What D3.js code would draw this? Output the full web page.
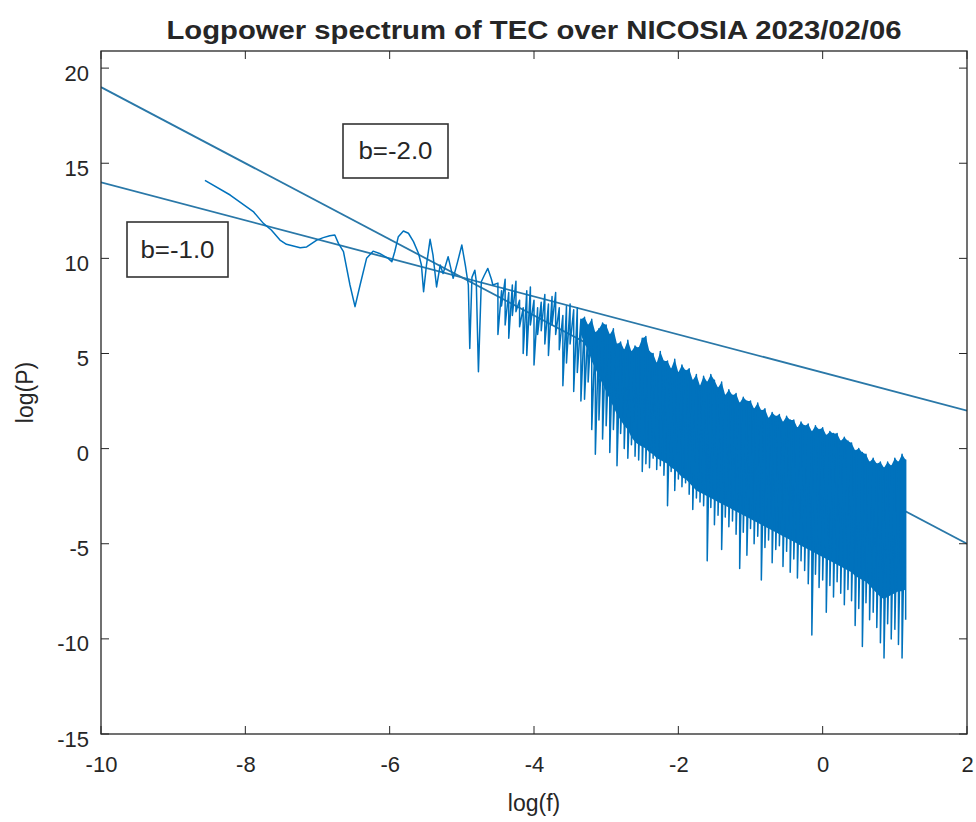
<!DOCTYPE html>
<html>
<head>
<meta charset="utf-8">
<script src="https://cdn.jsdelivr.net/npm/d3@7"></script>
<style>
  html, body { margin: 0; padding: 0; background: #ffffff; }
  svg { display: block; }
  text { font-family: "Liberation Sans", Arial, Helvetica, sans-serif; fill: #262626; }
</style>
</head>
<body>
<svg id="chart" width="976" height="822"></svg>
<script>
// ---------------- data ----------------
const titleText = "Logpower spectrum of TEC over NICOSIA 2023/02/06";
const xLabelText = "log(f)";
const yLabelText = "log(P)";
const xTicks = [-10, -8, -6, -4, -2, 0, 2];
const yTicks = [-15, -10, -5, 0, 5, 10, 15, 20];

// fitted power-law lines: log(P) = intercept + b * log(f)
const fitSlopes = [-1.0, -2.0];
const fitIntercepts = [4.0, -1.0];
const fitLabels = ["b=-1.0", "b=-2.0"];

// low-frequency (sparse) part of the spectrum
const lowLogF = [-8.56, -8.21, -7.89, -7.75, -7.64, -7.52, -7.43, -7.24, -7.15, -7.01,
  -6.92, -6.83, -6.76, -6.71, -6.64, -6.55, -6.48, -6.41, -6.32, -6.23,
  -6.14, -6.02, -5.97, -5.93, -5.88, -5.81, -5.74, -5.67, -5.60, -5.56,
  -5.53, -5.49, -5.44, -5.40, -5.35, -5.30, -5.26, -5.19, -5.12, -5.06,
  -5.00, -4.95, -4.91, -4.89, -4.86, -4.82, -4.80, -4.77, -4.73, -4.69,
  -4.64, -4.59, -4.57];
const lowLogP = [14.1, 13.33, 12.46, 11.84, 11.49, 10.96, 10.74, 10.56, 10.6, 10.96,
  11.09, 11.19, 11.23, 10.79, 10.35, 8.6, 7.46, 8.6, 10.0, 10.38,
  10.26, 10.0, 9.82, 10.35, 11.14, 11.44, 11.32, 10.88, 10.26, 9.65,
  8.25, 9.65, 11.0, 10.18, 8.5, 9.65, 9.2, 10.09, 8.95, 9.8,
  10.7, 9.6, 8.6, 5.26, 9.0, 9.38, 8.8, 4.04, 8.77, 9.1,
  9.47, 8.9, 8.6];

// high-frequency (dense) part: per bin, the highest value, the lower edge of
// the solid band and the deepest dip
const bandLogF = [-4.50, -4.45, -4.40, -4.35, -4.30, -4.25, -4.20, -4.15, -4.10, -4.05,
  -4.00, -3.95, -3.90, -3.85, -3.80, -3.75, -3.70, -3.65, -3.60, -3.55,
  -3.50, -3.45, -3.40, -3.35, -3.30, -3.25, -3.20, -3.15, -3.10, -3.05,
  -3.00, -2.95, -2.90, -2.85, -2.80, -2.75, -2.70, -2.65, -2.60, -2.55,
  -2.50, -2.45, -2.40, -2.35, -2.30, -2.25, -2.20, -2.15, -2.10, -2.05,
  -2.00, -1.95, -1.90, -1.85, -1.80, -1.75, -1.70, -1.65, -1.60, -1.55,
  -1.50, -1.45, -1.40, -1.35, -1.30, -1.25, -1.20, -1.15, -1.10, -1.05,
  -1.00, -0.95, -0.90, -0.85, -0.80, -0.75, -0.70, -0.65, -0.60, -0.55,
  -0.50, -0.45, -0.40, -0.35, -0.30, -0.25, -0.20, -0.15, -0.10, -0.05,
  0.00, 0.05, 0.10, 0.15, 0.20, 0.25, 0.30, 0.35, 0.40, 0.45,
  0.50, 0.55, 0.60, 0.65, 0.70, 0.75, 0.80, 0.85, 0.90, 0.95,
  1.00, 1.05, 1.10, 1.15];
const bandTop = [8.7, 8.3, 8.9, 8.2, 8.6, 8.8, 7.8, 7.4, 8.3, 8.5,
  7.8, 7.4, 7.7, 8.1, 7.6, 8.0, 8.2, 7.4, 7.0, 7.5,
  7.6, 7.3, 7.4, 6.8, 6.9, 6.5, 6.8, 6.1, 6.3, 6.6,
  6.5, 6.0, 6.3, 5.5, 5.6, 5.2, 5.7, 5.1, 5.4, 5.3,
  5.8, 5.9, 5.1, 5.0, 4.5, 5.1, 4.6, 4.6, 4.2, 4.7,
  4.0, 4.4, 4.1, 4.2, 3.6, 3.9, 3.3, 3.8, 3.5, 3.9,
  3.6, 3.2, 3.5, 2.8, 3.1, 2.8, 2.9, 2.4, 2.7, 2.5,
  2.5, 2.1, 2.4, 2.0, 2.1, 1.6, 1.9, 1.7, 1.8, 1.4,
  1.7, 1.5, 1.5, 1.1, 1.4, 1.2, 1.3, 0.9, 1.2, 1.0,
  1.1, 0.7, 0.9, 0.8, 0.8, 0.4, 0.6, 0.4, 0.3, -0.1,
  0.0, -0.2, -0.3, -0.7, -0.5, -0.8, -0.7, -1.0, -0.7, -0.9,
  -0.5, -0.7, -0.3, -0.6];
const bandCore = [null, null, null, null, null, null, null, null, null, null,
  null, null, null, null, null, null, null, null, null, null,
  null, null, null, 6.0, 5.5, 5.2, 4.6, 4.2, 3.8, 3.4,
  3.0, 2.6, 2.2, 1.8, 1.5, 1.2, 1.0, 0.6, 0.35, 0.2,
  0.1, 0.0, -0.2, -0.3, -0.5, -0.6, -0.7, -0.8, -1.0, -1.1,
  -1.3, -1.5, -1.6, -1.8, -2.0, -2.2, -2.3, -2.4, -2.5, -2.6,
  -2.7, -2.8, -2.9, -3.0, -3.1, -3.2, -3.3, -3.4, -3.5, -3.6,
  -3.7, -3.8, -3.9, -4.0, -4.1, -4.2, -4.3, -4.4, -4.5, -4.6,
  -4.7, -4.8, -4.9, -5.0, -5.1, -5.2, -5.3, -5.4, -5.5, -5.6,
  -5.7, -5.8, -5.9, -6.0, -6.1, -6.2, -6.3, -6.4, -6.5, -6.7,
  -6.8, -6.9, -7.0, -7.2, -7.4, -7.6, -7.8, -7.9, -7.8, -7.7,
  -7.6, -7.5, -7.5, -7.4];
const bandDip = [6.0, 7.5, 6.5, 5.8, 7.0, 7.2, 6.4, 5.0, 4.9, 6.5,
  4.4, 6.0, 6.2, 5.5, 4.9, 6.5, 6.0, 5.2, 3.3, 4.5,
  5.5, 3.0, 4.0, 2.5, 2.6, 3.5, 1.0, -0.3, 1.5, 0.5,
  1.2, -0.2, 1.0, -0.9, 0.8, 0.0, -0.5, 0.2, -0.4, -0.6,
  -1.2, -0.8, -1.0, -0.5, -1.1, -0.9, -1.4, -3.0, -1.2, -2.2,
  -1.6, -2.0, -1.8, -2.4, -3.2, -2.6, -2.8, -3.0, -5.9, -3.1,
  -4.0, -3.5, -5.3, -3.6, -4.1, -3.8, -4.5, -6.3, -4.4, -5.6,
  -4.2, -5.0, -4.6, -6.9, -5.2, -4.8, -6.0, -5.3, -5.1, -6.2,
  -5.4, -6.5, -5.8, -6.8, -5.9, -6.4, -7.1, -9.8, -6.6, -7.3,
  -6.9, -8.6, -7.2, -7.8, -7.0, -7.6, -8.2, -7.4, -8.0, -9.3,
  -8.4, -10.4, -8.1, -9.0, -8.6, -9.4, -10.2, -11.0, -9.2, -10.0,
  -9.5, -10.3, -11.0, -9.0];

// ---------------- layout ----------------
const W = 976, H = 822;
const plotLeft = 101, plotRight = 967, plotTop = 51, plotBottom = 734;
const lineColor = "#0072BD";
const fitColor = "#2a78a8";
const axisColor = "#262626";

const svg = d3.select("#chart");
svg.append("rect").attr("width", W).attr("height", H).attr("fill", "#ffffff");

const x = d3.scaleLinear().domain([-10, 2]).range([plotLeft, plotRight]);
const y = d3.scaleLinear().domain([-15, 20.9]).range([plotBottom, plotTop]);

svg.append("defs").append("clipPath").attr("id", "plotClip")
  .append("rect")
  .attr("x", plotLeft).attr("y", plotTop)
  .attr("width", plotRight - plotLeft).attr("height", plotBottom - plotTop);

const g = svg.append("g").attr("clip-path", "url(#plotClip)");

// fitted lines (drawn first, the spectrum covers them)
const xDom = x.domain();
fitSlopes.forEach((b, i) => {
  const seg = xDom.map(f => [f, fitIntercepts[i] + b * f]);
  g.append("path")
    .datum(seg)
    .attr("fill", "none")
    .attr("stroke", fitColor)
    .attr("stroke-width", 1.8)
    .attr("d", d3.line().x(d => x(d[0])).y(d => y(d[1])));
});

// dense band fill
const band = bandLogF.map((f, i) => ({ f, top: bandTop[i], core: bandCore[i], dip: bandDip[i] }));
g.append("path")
  .datum(band)
  .attr("fill", lineColor)
  .attr("stroke", "none")
  .attr("d", d3.area()
    .defined(d => d.core !== null)
    .x(d => x(d.f))
    .y0(d => y(d.core))
    .y1(d => y(d.top)));

// spectrum line
const pts = lowLogF.map((f, i) => [f, lowLogP[i]])
  .concat(band.flatMap(d => [[d.f, d.top], [d.f, d.dip]]));
g.append("path")
  .datum(pts)
  .attr("fill", "none")
  .attr("stroke", lineColor)
  .attr("stroke-width", 1.5)
  .attr("stroke-linejoin", "round")
  .attr("d", d3.line().x(d => x(d[0])).y(d => y(d[1])));

// ---------------- axes ----------------
const tickLen = 8;
const fontSize = 22;

const axB = d3.axisBottom(x).tickValues(xTicks).tickSize(0).tickPadding(22).tickFormat(d3.format("d"));
const axL = d3.axisLeft(y).tickValues(yTicks).tickSize(0).tickPadding(12).tickFormat(d3.format("d"));

const gx = svg.append("g").attr("transform", `translate(0,${plotBottom})`).call(axB);
const gy = svg.append("g").attr("transform", `translate(${plotLeft},0)`).call(axL);
[gx, gy].forEach(a => {
  a.select(".domain").remove();
  a.selectAll("text").attr("font-size", fontSize).attr("fill", axisColor)
    .style("font-family", "'Liberation Sans', Arial, sans-serif");
});
gx.selectAll("text").text(d => d < 0 ? "-" + Math.abs(d) : String(d));
gy.selectAll("text").text(d => d < 0 ? "-" + Math.abs(d) : String(d)).attr("dy", "0.55em");

// inward ticks on all four sides
const tk = svg.append("g").attr("stroke", axisColor).attr("stroke-width", 1);
xTicks.forEach(t => {
  tk.append("line").attr("x1", x(t)).attr("x2", x(t)).attr("y1", plotBottom).attr("y2", plotBottom - tickLen);
  tk.append("line").attr("x1", x(t)).attr("x2", x(t)).attr("y1", plotTop).attr("y2", plotTop + tickLen);
});
yTicks.forEach(t => {
  tk.append("line").attr("x1", plotLeft).attr("x2", plotLeft + tickLen).attr("y1", y(t)).attr("y2", y(t));
  tk.append("line").attr("x1", plotRight).attr("x2", plotRight - tickLen).attr("y1", y(t)).attr("y2", y(t));
});

// box
svg.append("rect")
  .attr("x", plotLeft).attr("y", plotTop)
  .attr("width", plotRight - plotLeft).attr("height", plotBottom - plotTop)
  .attr("fill", "none").attr("stroke", axisColor).attr("stroke-width", 1.3);

// title & labels
svg.append("text")
  .attr("x", (plotLeft + plotRight) / 2).attr("y", 39)
  .attr("text-anchor", "middle")
  .attr("font-size", 26).attr("font-weight", "bold")
  .attr("textLength", 735).attr("lengthAdjust", "spacingAndGlyphs")
  .text(titleText);

svg.append("text")
  .attr("x", (plotLeft + plotRight) / 2).attr("y", 811)
  .attr("text-anchor", "middle")
  .attr("font-size", 23)
  .text(xLabelText);

svg.append("text")
  .attr("transform", `translate(33,${(plotTop + plotBottom) / 2}) rotate(-90)`)
  .attr("text-anchor", "middle")
  .attr("font-size", 23)
  .text(yLabelText);

// annotation boxes
const annot = [
  { label: fitLabels[1], x0: 343, y0: 124, w: 105, h: 54 },
  { label: fitLabels[0], x0: 127, y0: 222, w: 101, h: 55 }
];
annot.forEach(a => {
  svg.append("rect")
    .attr("x", a.x0).attr("y", a.y0).attr("width", a.w).attr("height", a.h)
    .attr("fill", "#ffffff").attr("stroke", "#333333").attr("stroke-width", 1.6);
  svg.append("text")
    .attr("x", a.x0 + a.w / 2).attr("y", a.y0 + a.h / 2)
    .attr("dy", "0.36em")
    .attr("text-anchor", "middle")
    .attr("font-size", 23)
    .attr("textLength", 74).attr("lengthAdjust", "spacingAndGlyphs")
    .text(a.label);
});
</script>
</body>
</html>
